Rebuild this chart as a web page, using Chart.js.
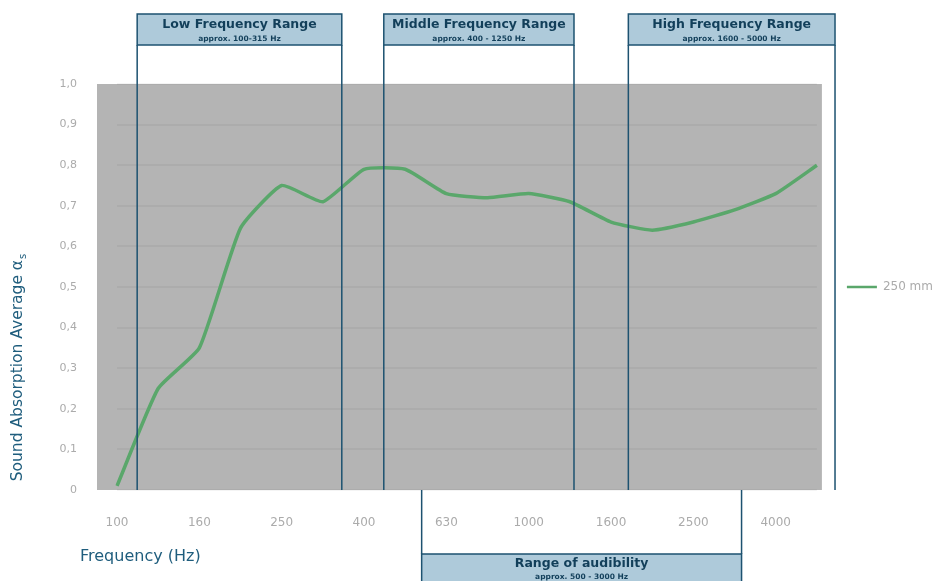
<!DOCTYPE html>
<html>
<head>
<meta charset="utf-8">
<script src="https://cdn.jsdelivr.net/npm/chart.js@4.4.1/dist/chart.umd.min.js"></script>
<style>
  html, body { margin: 0; padding: 0; background: #fff; }
  #wrap { width: 932px; height: 581px; }
</style>
</head>
<body>
<div id="wrap"><canvas id="myChart"></canvas></div>
<script>
// third-octave bands, every other one gets a label
const frequencies = ["100", "125", "160", "200", "250", "315", "400", "500", "630",
  "800", "1000", "1250", "1600", "2000", "2500", "3150", "4000", "5000"];
const absorption250mm = [0.01, 0.25, 0.35, 0.645, 0.75, 0.71, 0.79, 0.79, 0.73,
  0.72, 0.73, 0.71, 0.66, 0.64, 0.66, 0.69, 0.73, 0.80];
const xTickLabels = ["100", "160", "250", "400", "630", "1000", "1600", "2500", "4000"];

// frequency ranges, given in band index units of the x axis
const topRanges = [
  { title: "Low Frequency Range", sub: "approx. 100-315 Hz", from: 0.49, to: 5.46 },
  { title: "Middle Frequency Range", sub: "approx. 400 - 1250 Hz", from: 6.48, to: 11.1 },
  { title: "High Frequency Range", sub: "approx. 1600 - 5000 Hz", from: 12.42, to: 17.44 },
];
const bottomRange = { title: "Range of audibility", sub: "approx. 500 - 3000 Hz", from: 7.4, to: 15.17 };

const main = () => {
  const lineColor = "#5aa76b";
  const boxFill = "#aecada";
  const boxLine = "#1d5270";
  const boxText = "#123f5a";
  const titleColor = "#1f5d7d";
  const tickColor = "#ababab";
  const face = "'DejaVu Sans'";

  const overlay = {
    id: "overlay",
    beforeDraw(chart) {
      const { ctx, chartArea: a } = chart;
      ctx.save();
      ctx.fillStyle = "#b4b4b4";
      ctx.fillRect(a.left - 20, a.top, a.width + 25, a.bottom - a.top);
      ctx.restore();
    },
    afterDraw(chart) {
      const { ctx, chartArea: a } = chart;
      const x = chart.scales.x;
      ctx.save();
      ctx.lineWidth = 1.5;
      ctx.strokeStyle = boxLine;
      ctx.textAlign = "center";
      ctx.textBaseline = "middle";

      const boxTop = a.top - 70;
      const boxBottom = a.top - 39;
      topRanges.forEach((r) => {
        const x1 = x.getPixelForValue(r.from);
        const x2 = x.getPixelForValue(r.to);
        ctx.fillStyle = boxFill;
        ctx.fillRect(x1, boxTop, x2 - x1, boxBottom - boxTop);
        ctx.strokeRect(x1, boxTop, x2 - x1, boxBottom - boxTop);
        ctx.beginPath();
        ctx.moveTo(x1, boxBottom);
        ctx.lineTo(x1, a.bottom);
        ctx.moveTo(x2, boxBottom);
        ctx.lineTo(x2, a.bottom);
        ctx.stroke();
        ctx.fillStyle = boxText;
        ctx.font = "bold 12.5px " + face;
        ctx.fillText(r.title, (x1 + x2) / 2, boxTop + 11);
        ctx.font = "bold 7.5px " + face;
        ctx.fillText(r.sub, (x1 + x2) / 2, boxTop + 25);
      });

      const b1 = x.getPixelForValue(bottomRange.from);
      const b2 = x.getPixelForValue(bottomRange.to);
      const bTop = a.bottom + 64;
      ctx.fillStyle = boxFill;
      ctx.fillRect(b1, bTop, b2 - b1, 40);
      ctx.strokeRect(b1, bTop, b2 - b1, 40);
      ctx.beginPath();
      ctx.moveTo(b1, a.bottom);
      ctx.lineTo(b1, bTop);
      ctx.moveTo(b2, a.bottom);
      ctx.lineTo(b2, bTop);
      ctx.stroke();
      ctx.fillStyle = boxText;
      ctx.font = "bold 12.5px " + face;
      ctx.fillText(bottomRange.title, (b1 + b2) / 2, bTop + 10);
      ctx.font = "bold 7.5px " + face;
      ctx.fillText(bottomRange.sub, (b1 + b2) / 2, bTop + 23);

      // axis titles
      ctx.fillStyle = titleColor;
      ctx.font = "16px " + face;
      ctx.textAlign = "left";
      ctx.fillText("Frequency (Hz)", 80, 557);

      ctx.translate(18, 368);
      ctx.rotate(-Math.PI / 2);
      ctx.font = "15.5px " + face;
      const label = "Sound Absorption Average α";
      const w = ctx.measureText(label).width;
      ctx.font = "10px " + face;
      const ws = ctx.measureText("s").width;
      const start = -(w + ws) / 2;
      ctx.font = "15.5px " + face;
      ctx.fillText(label, start, 0);
      ctx.font = "10px " + face;
      ctx.fillText("s", start + w + 1, 5);
      ctx.restore();
    },
  };

  const data = {
    labels: frequencies,
    datasets: [
      {
        label: "250 mm",
        data: absorption250mm,
        borderColor: lineColor,
        backgroundColor: lineColor,
        borderWidth: 3.5,
        pointRadius: 0,
        tension: 0.15,
      },
    ],
  };

  const config = {
    type: "line",
    data: data,
    options: {
      responsive: true,
      maintainAspectRatio: false,
      animation: false,
      layout: {
        padding: { top: 84, right: -11, bottom: 0, left: 0 },
      },
      plugins: {
        tooltip: { enabled: false },
        legend: {
          position: "right",
          fullSize: false,
          labels: {
            boxWidth: 30,
            boxHeight: 2.5,
            padding: 30,
            color: tickColor,
            font: { family: face, size: 12 },
            generateLabels: (chart) =>
              Chart.defaults.plugins.legend.labels
                .generateLabels(chart)
                .map((l) => ({ ...l, lineWidth: 0 })),
          },
        },
      },
      scales: {
        x: {
          offset: false,
          afterFit: (s) => {
            s.height = 91;
          },
          grid: { display: false, drawTicks: false },
          border: { display: false },
          ticks: {
            autoSkip: false,
            maxRotation: 0,
            padding: 26,
            color: tickColor,
            font: { family: face, size: 12 },
            callback: (value, index) =>
              xTickLabels.includes(frequencies[index]) ? frequencies[index] : "",
          },
        },
        y: {
          min: 0,
          max: 1,
          afterFit: (s) => {
            s.width = 117;
          },
          grid: { color: "rgba(0,0,0,0.045)", lineWidth: 2, drawTicks: false },
          border: { display: false },
          ticks: {
            stepSize: 0.1,
            padding: 40,
            color: tickColor,
            font: { family: face, size: 11 },
            callback: (v) => (v === 0 ? "0" : v.toFixed(1).replace(".", ",")),
          },
        },
      },
    },
    plugins: [overlay],
  };

  const myChart = new Chart(document.getElementById("myChart"), config);
};
main();
</script>
</body>
</html>
